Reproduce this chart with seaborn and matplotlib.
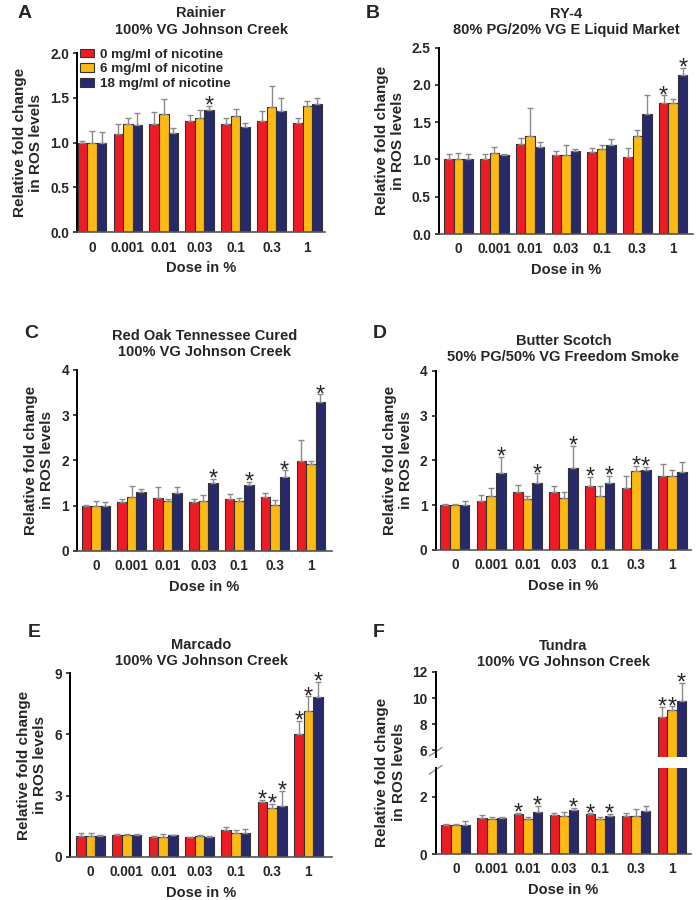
import matplotlib
matplotlib.use('Agg')
import matplotlib.pyplot as plt
from matplotlib.patches import Patch
import seaborn as sns
import pandas as pd
import numpy as np

doses = ['0', '0.001', '0.01', '0.03', '0.1', '0.3', '1']
nicotine = ['0 mg/ml of nicotine', '6 mg/ml of nicotine', '18 mg/ml of nicotine']
colors = ['#ED1C24', '#FDB913', '#262A6B']

# rows: 0, 6, 18 mg/ml nicotine
a_mean = [[1.00, 1.10, 1.21, 1.24, 1.21, 1.24, 1.22],
          [1.00, 1.21, 1.32, 1.28, 1.30, 1.40, 1.41],
          [1.00, 1.20, 1.11, 1.37, 1.18, 1.35, 1.43]]
a_err = [[0.02, 0.11, 0.13, 0.07, 0.07, 0.11, 0.06],
         [0.13, 0.06, 0.17, 0.09, 0.08, 0.23, 0.06],
         [0.12, 0.13, 0.05, 0.04, 0.04, 0.15, 0.07]]
a_star = [[], [], ['0.03']]

b_mean = [[1.00, 1.00, 1.21, 1.06, 1.10, 1.03, 1.76],
          [1.00, 1.09, 1.32, 1.06, 1.14, 1.32, 1.76],
          [1.00, 1.06, 1.17, 1.11, 1.19, 1.61, 2.13]]
b_err = [[0.08, 0.08, 0.08, 0.06, 0.06, 0.12, 0.10],
         [0.09, 0.08, 0.37, 0.14, 0.06, 0.08, 0.05],
         [0.07, 0.02, 0.07, 0.03, 0.08, 0.25, 0.10]]
b_star = [['1'], [], ['1']]

c_mean = [[1.00, 1.09, 1.17, 1.08, 1.14, 1.20, 1.99],
          [1.00, 1.20, 1.11, 1.10, 1.10, 1.01, 1.92],
          [1.00, 1.30, 1.27, 1.50, 1.46, 1.63, 3.28]]
c_err = [[0.02, 0.05, 0.23, 0.06, 0.11, 0.08, 0.47],
         [0.10, 0.24, 0.04, 0.13, 0.07, 0.12, 0.07],
         [0.08, 0.07, 0.15, 0.09, 0.07, 0.15, 0.18]]
c_star = [[], [], ['0.03', '0.1', '0.3', '1']]

d_mean = [[1.00, 1.09, 1.29, 1.29, 1.43, 1.39, 1.65],
          [1.00, 1.20, 1.14, 1.15, 1.21, 1.76, 1.64],
          [1.00, 1.72, 1.49, 1.82, 1.49, 1.78, 1.75]]
d_err = [[0.02, 0.14, 0.17, 0.14, 0.20, 0.25, 0.27],
         [0.03, 0.19, 0.06, 0.14, 0.22, 0.11, 0.15],
         [0.10, 0.36, 0.22, 0.51, 0.16, 0.08, 0.21]]
d_star = [['0.1'], ['0.3'], ['0.001', '0.01', '0.03', '0.1', '0.3']]

e_mean = [[1.03, 1.05, 0.95, 0.97, 1.29, 2.67, 6.00],
          [1.00, 1.05, 0.98, 1.03, 1.16, 2.41, 7.17],
          [1.01, 1.05, 1.05, 0.97, 1.15, 2.50, 7.81]]
e_err = [[0.12, 0.05, 0.05, 0.01, 0.15, 0.11, 0.68],
         [0.15, 0.08, 0.12, 0.03, 0.17, 0.19, 0.70],
         [0.04, 0.06, 0.03, 0.03, 0.22, 0.72, 0.75]]
e_star = [['0.3', '1'], ['0.3', '1'], ['0.3', '1']]

f_mean = [[1.00, 1.25, 1.40, 1.38, 1.40, 1.34, 8.53],
          [1.00, 1.23, 1.23, 1.33, 1.23, 1.34, 9.11],
          [1.00, 1.25, 1.48, 1.53, 1.34, 1.51, 9.80]]
f_err = [[0.05, 0.11, 0.03, 0.04, 0.02, 0.11, 0.81],
         [0.04, 0.08, 0.05, 0.14, 0.08, 0.23, 0.26],
         [0.16, 0.06, 0.20, 0.08, 0.06, 0.15, 1.39]]
f_star = [['0.01', '0.1', '1'], ['1'], ['0.01', '0.03', '0.1', '1']]

sns.set_style('ticks')
plt.rcParams['font.family'] = ['Liberation Sans', 'DejaVu Sans']
plt.rcParams['font.weight'] = 'bold'
plt.rcParams['axes.labelweight'] = 'bold'
plt.rcParams['axes.titleweight'] = 'bold'

fig = plt.figure(figsize=(6.96, 9), dpi=100)
ylab = 'Relative fold change\nin ROS levels'


def draw(ax, means, errs, stars, ylim, yticks, fmt):
    df = pd.DataFrame({'dose': doses * 3,
                       'nic': np.repeat(nicotine, len(doses)),
                       'val': np.concatenate(means)})
    sns.barplot(data=df, x='dose', y='val', hue='nic', palette=colors, width=0.8,
                errorbar=None, saturation=1, edgecolor='#333333', linewidth=0.8,
                legend=False, ax=ax)
    bars = list(ax.containers)
    for k, cont in enumerate(bars):
        xs = np.array([p.get_x() + p.get_width() / 2 for p in cont])
        m = np.array(means[k])
        e = np.array(errs[k])
        ax.errorbar(xs, m, yerr=[np.zeros(len(m)), e], fmt='none', ecolor='#8a8a8a',
                    elinewidth=1, capsize=2.5, capthick=1, zorder=3)
        for d in stars[k]:
            i = doses.index(d)
            top = m[i] + e[i]
            if ylim[0] <= top <= ylim[1]:
                ax.annotate('*', (xs[i], top), xytext=(0, -8.5), textcoords='offset points',
                            ha='center', va='bottom', fontsize=17, fontweight='normal',
                            annotation_clip=False)
    ax.set_ylim(*ylim)
    ax.set_yticks(yticks)
    ax.set_yticklabels([fmt.format(t) for t in yticks])
    sns.despine(ax=ax)
    ax.spines['left'].set_linewidth(1.4)
    ax.spines['left'].set_color('black')
    ax.spines['bottom'].set_linewidth(1.2)
    ax.spines['bottom'].set_color('#555555')
    ax.tick_params(axis='y', length=3, width=1.2, pad=3, labelsize=9.8)
    ax.tick_params(axis='x', length=0, pad=6, labelsize=9.8)
    ax.set_xlabel('Dose in %', fontsize=10.5, labelpad=5)
    ax.set_ylabel(ylab, fontsize=11, labelpad=5)


def letter(x, y, s):
    fig.text(x, y, s, fontsize=14, fontweight='bold', ha='left', va='center')


# A
ax = fig.add_axes([0.111, 0.742, 0.356, 0.199])
draw(ax, a_mean, a_err, a_star, (0, 2.0), [0, 0.5, 1.0, 1.5, 2.0], '{:.1f}')
ax.set_xlim(-0.41, 6.49)
ax.set_title('Rainier\n100% VG Johnson Creek', fontsize=10.5, pad=14)
handles = [Patch(facecolor=c, edgecolor='#333333', linewidth=0.8) for c in colors]
ax.legend(handles, nicotine, loc='upper left', bbox_to_anchor=(0.01, 1.025), frameon=False,
          fontsize=9.7, borderaxespad=0, borderpad=0, labelspacing=0.2,
          handlelength=1.05, handleheight=0.6, handletextpad=0.45)
letter(0.025, 0.985, 'A')

# B
ax = fig.add_axes([0.631, 0.740, 0.365, 0.207])
draw(ax, b_mean, b_err, b_star, (0, 2.5), [0, 0.5, 1.0, 1.5, 2.0, 2.5], '{:.1f}')
ax.set_xlim(-0.54, 6.56)
ax.set_title('RY-4\n80% PG/20% VG E Liquid Market', fontsize=10.5, pad=10)
letter(0.525, 0.985, 'B')

# C
ax = fig.add_axes([0.111, 0.388, 0.366, 0.201])
draw(ax, c_mean, c_err, c_star, (0, 4), [0, 1, 2, 3, 4], '{:d}')
ax.set_xlim(-0.52, 6.59)
ax.set_title('Red Oak Tennessee Cured\n100% VG Johnson Creek', fontsize=10.5, pad=10)
letter(0.035, 0.63, 'C')

# D
ax = fig.add_axes([0.626, 0.389, 0.367, 0.199])
draw(ax, d_mean, d_err, d_star, (0, 4), [0, 1, 2, 3, 4], '{:d}')
ax.set_xlim(-0.53, 6.52)
ax.set_title('Butter Scotch\n50% PG/50% VG Freedom Smoke', fontsize=10.5, pad=7)
letter(0.535, 0.63, 'D')

# E
ax = fig.add_axes([0.101, 0.048, 0.376, 0.204])
draw(ax, e_mean, e_err, e_star, (0, 9), [0, 3, 6, 9], '{:d}')
ax.set_xlim(-0.56, 6.65)
ax.set_title('Marcado\n100% VG Johnson Creek', fontsize=10.5, pad=6)
letter(0.04, 0.297, 'E')

# F (broken y axis)
ax_lo = fig.add_axes([0.626, 0.051, 0.367, 0.0956])
ax_hi = fig.add_axes([0.626, 0.159, 0.367, 0.0944])
draw(ax_lo, f_mean, f_err, f_star, (0, 3), [0, 2], '{:d}')
draw(ax_hi, f_mean, f_err, f_star, (5.5, 12), [6, 8, 10, 12], '{:d}')
for a in (ax_lo, ax_hi):
    a.set_xlim(-0.56, 6.53)
    a.set_ylabel('')
ax_hi.spines['bottom'].set_visible(False)
ax_hi.tick_params(axis='x', labelbottom=False)
ax_hi.set_xlabel('')
ax_hi.set_title('Tundra\n100% VG Johnson Creek', fontsize=10.5, pad=4)
kw = dict(color='#888888', lw=0.9, clip_on=False)
ax_hi.plot([-0.025, 0.025], [0.01, 0.11], transform=ax_hi.transAxes, **kw)
ax_lo.plot([-0.025, 0.025], [0.93, 1.03], transform=ax_lo.transAxes, **kw)
fig.text(0.561, 0.142, ylab, rotation=90, ha='center', va='center', fontsize=11,
         fontweight='bold', multialignment='center')
letter(0.535, 0.297, 'F')

fig.savefig('out.png', dpi=100)
